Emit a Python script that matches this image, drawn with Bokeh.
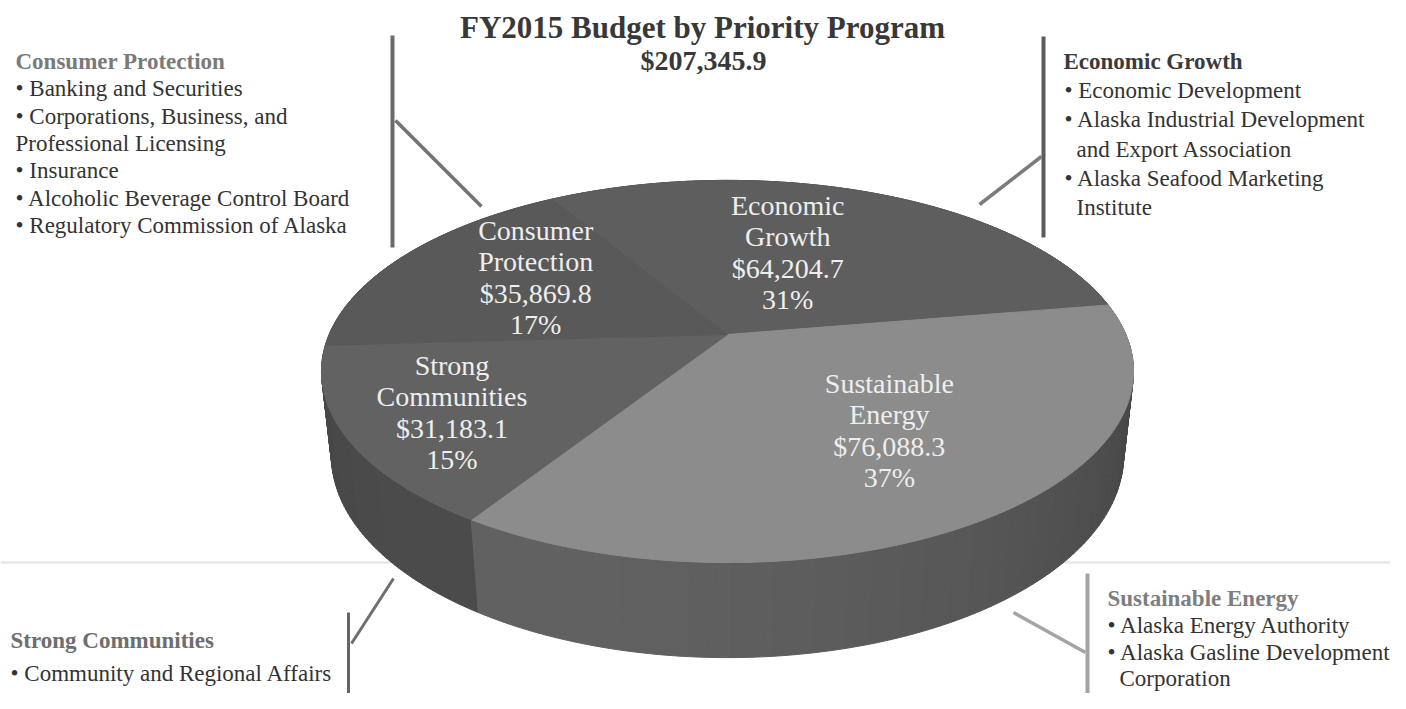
import numpy as np
from bokeh.plotting import figure
from bokeh.models import Range1d
from bokeh.embed import file_html
from bokeh.resources import INLINE
from bokeh.core.properties import value

# ---------------- data ----------------
TITLE = "FY2015 Budget by Priority Program"
programs = ["Economic Growth", "Sustainable Energy", "Strong Communities", "Consumer Protection"]
label_lines = [["Economic", "Growth"], ["Sustainable", "Energy"],
               ["Strong", "Communities"], ["Consumer", "Protection"]]
budget = [64204.7, 76088.3, 31183.1, 35869.8]

consumer_items = ["• Banking and Securities", "• Corporations, Business, and",
                  "Professional Licensing", "• Insurance",
                  "• Alcoholic Beverage Control Board", "• Regulatory Commission of Alaska"]
economic_items = ["• Economic Development", "• Alaska Industrial Development",
                  "and Export Association", "• Alaska Seafood Marketing", "Institute"]
strong_items = ["• Community and Regional Affairs"]
energy_items = ["• Alaska Energy Authority", "• Alaska Gasline Development", "Corporation"]

# ---------------- styles / geometry ----------------
SERIF = value("Liberation Serif")
W, H_PX = 1390, 693
CX, CY = 727.0, 334.0
F, D = 1826.0, 4.584
PHI = np.radians(27.5)
THICK = 0.239
START = 121.0  # degrees, slices go clockwise
top_colors = ["#5e5e5e", "#8c8c8c", "#626262", "#595959"]
wall_base = [0x52, 0x62, 0x4c, 0x4a]
label_r = [0.515, 0.60, 0.75, 0.61]
label_da = [6.0, 4.5, 1.2, -5.0]


def proj(X, Z, Y=0.0):
    s = Y * np.cos(PHI) + Z * np.sin(PHI)
    d = D + Z * np.cos(PHI) - Y * np.sin(PHI)
    return CX + F * X / d, CY - F * s / d


p = figure(width=W, height=H_PX, x_range=Range1d(0, W), y_range=Range1d(H_PX, 0),
           output_backend="svg", toolbar_location=None, x_axis_type=None, y_axis_type=None,
           min_border=0)
p.outline_line_color = None
p.xgrid.visible = False
p.ygrid.visible = False
p.background_fill_color = "white"
p.border_fill_color = "white"

# faint horizontal rule behind the pie
p.line([0, 1406], [562, 562], line_color="#e2e2e2", line_width=2)

total = float(sum(budget))
angles = []
a0 = START
for v in budget:
    sweep = v / total * 360.0
    angles.append((a0 - sweep, a0))
    a0 -= sweep

# ---- walls (strips sorted far to near) ----
strips = []
for i, (lo, hi) in enumerate(angles):
    n = max(2, int(np.ceil(hi - lo)))
    th = np.linspace(lo, hi, n + 1)
    for k in range(n):
        t1, t2 = np.radians(th[k]), np.radians(th[k + 1])
        xa, ya = proj(np.cos(t1), np.sin(t1))
        xb, yb = proj(np.cos(t2), np.sin(t2))
        xc, yc = proj(np.cos(t2), np.sin(t2), -THICK)
        xd, yd = proj(np.cos(t1), np.sin(t1), -THICK)
        tm = 0.5 * (t1 + t2)
        shade = 0.78 + 0.22 * np.cos(tm - np.radians(240))
        g = int(max(0, min(255, wall_base[i] * shade)))
        col = "#%02x%02x%02x" % (g, g, g)
        strips.append((np.sin(tm), [xa, xb, xc, xd], [ya, yb, yc, yd], col))
strips.sort(key=lambda s: -s[0])
p.patches([s[1] for s in strips], [s[2] for s in strips],
          fill_color=[s[3] for s in strips], line_color=[s[3] for s in strips], line_width=1)

# ---- top faces ----
xs, ys = [], []
for lo, hi in angles:
    th = np.radians(np.linspace(lo, hi, 120))
    px, py = proj(np.cos(th), np.sin(th))
    xs.append([CX] + list(px))
    ys.append([CY] + list(py))
p.patches(xs, ys, fill_color=top_colors, line_color=top_colors, line_width=1)

# ---- slice labels ----
tx, ty, tt = [], [], []
for i, (lo, hi) in enumerate(angles):
    mid = np.radians(0.5 * (lo + hi) + label_da[i])
    lx, ly = proj(label_r[i] * np.cos(mid), label_r[i] * np.sin(mid))
    lines = label_lines[i] + ["${:,.1f}".format(budget[i]), "{:.0f}%".format(budget[i] / total * 100)]
    for j, t in enumerate(lines):
        tx.append(lx)
        ty.append(ly + (j - 1.5) * 31.5)
        tt.append(t)
p.text(tx, ty, text=tt, text_font=SERIF, text_font_size="28px", text_color="#eeeeee",
       text_align="center", text_baseline="middle")

# ---- title ----
p.text([702], [27], text=[TITLE], text_font=SERIF,
       text_font_size="31px", text_font_style="bold", text_color="#383838",
       text_align="center", text_baseline="middle")
p.text([703], [60], text=["${:,.1f}".format(total)], text_font=SERIF,
       text_font_size="28px", text_font_style="bold", text_color="#383838",
       text_align="center", text_baseline="middle")

# ---- callout leader lines ----
p.line([392, 392], [35, 247], line_color="#6a6a6a", line_width=4)
p.line([395, 481], [120, 206], line_color="#747474", line_width=3.5)
p.line([1043, 1043], [36, 237], line_color="#5c5c5c", line_width=4)
p.line([1041, 979], [156, 204], line_color="#7c7c7c", line_width=3.5)
p.line([348, 348], [612, 709], line_color="#666666", line_width=3)
p.line([351, 393], [643, 578], line_color="#6e6e6e", line_width=3)
p.line([1087, 1087], [573, 709], line_color="#a4a4a4", line_width=4)
p.line([1013, 1085], [612, 652], line_color="#a4a4a4", line_width=3.5)


def block(x_head, y0, step, heading, head_color, items, x_bullet, x_cont):
    p.text([x_head], [y0], text=[heading], text_font=SERIF, text_font_size="23px",
           text_font_style="bold", text_color=head_color, text_baseline="middle")
    bx, by, bt = [], [], []
    for k, t in enumerate(items):
        bx.append(x_bullet if t.startswith("•") else x_cont)
        by.append(y0 + (k + 1) * step)
        bt.append(t)
    p.text(bx, by, text=bt, text_font=SERIF, text_font_size="23px", text_color="#333333",
           text_baseline="middle")


block(15, 61, 27.3, programs[3], "#7a7a7a", consumer_items, 15, 15)
block(1063, 61, 29.2, programs[0], "#3a3a3a", economic_items, 1064, 1076)
block(10, 640, 33, programs[2], "#6e6e6e", strong_items, 10, 10)
block(1107, 598, 26.8, programs[1], "#7e7e7e", energy_items, 1107, 1119)

open("out.html", "w").write(file_html(p, INLINE))
